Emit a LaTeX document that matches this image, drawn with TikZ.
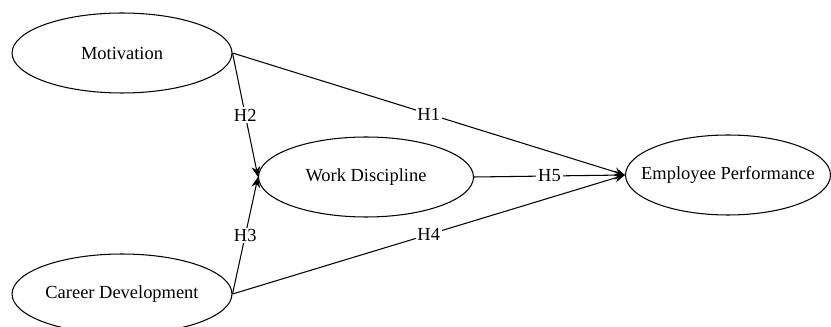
\documentclass[tikz,border=0pt]{standalone}
\usepackage{fontspec}
\setmainfont{Liberation Serif}
\usepackage{tikz}
\usetikzlibrary{shapes.geometric}
\usetikzlibrary{arrows.meta}

\begin{document}
\begin{tikzpicture}[x=0.02cm,y=-0.02cm,
  construct/.style={draw,ellipse,line width=0.6pt,inner sep=0pt,minimum height=1.6cm,font=\fontsize{10.5}{12}\selectfont},
  path/.style={line width=0.6pt,->,>={Stealth[length=6pt,width=5pt]}},
  hyp/.style={fill=white,inner sep=1pt,font=\fontsize{10.5}{12}\selectfont}]

\useasboundingbox (0,0) rectangle (831,327);

% --- Exogenous constructs ---
\node[construct,minimum width=4.4cm] (mot) at (122,53) {Motivation};
\node[construct,minimum width=4.4cm] (car) at (122,294) {Career Development};

% --- Mediator and outcome ---
\node[construct,minimum width=4.3cm] (wd) at (366,177) {Work Discipline};
\node[construct,minimum width=4.1cm] (ep) at (728,175) {\makebox[0pt]{Employee Performance}};

% --- Hypotheses ---
\draw[path] (mot.east) -- node[hyp] {H1} (ep.west);
\draw[path] (mot.east) -- node[hyp] {H2} (wd.west);
\draw[path] (car.east) -- node[hyp] {H3} (wd.west);
\draw[path] (car.east) -- node[hyp] {H4} (ep.west);
\draw[path] (wd.east) -- node[hyp] {H5} (ep.west);

\end{tikzpicture}
\end{document}
